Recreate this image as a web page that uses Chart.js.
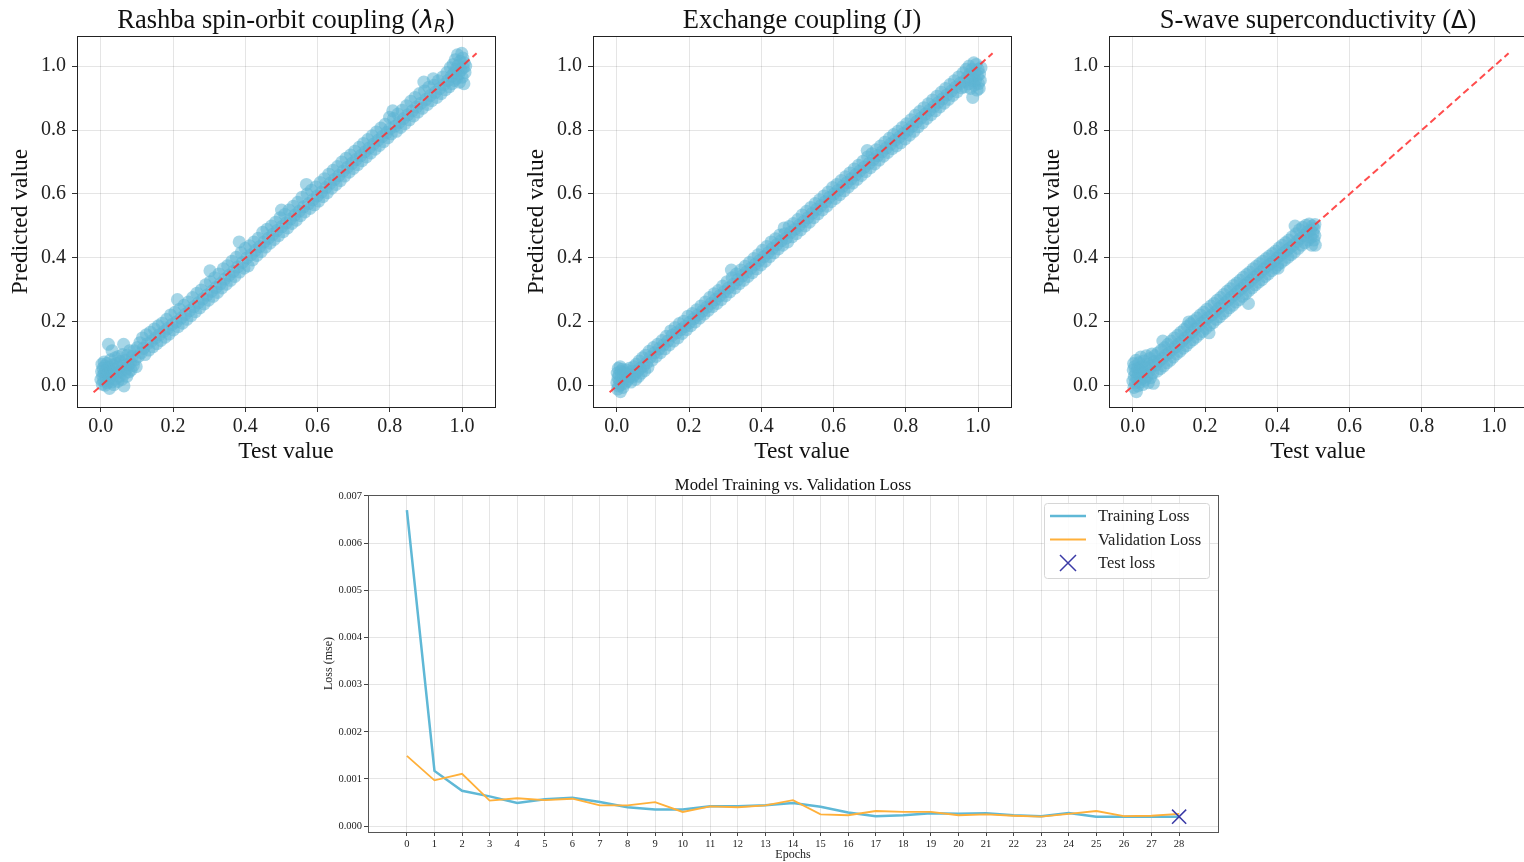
<!DOCTYPE html>
<html>
<head>
<meta charset="utf-8">
<script src="https://cdn.jsdelivr.net/npm/chart.js@4.4.0/dist/chart.umd.min.js"></script>
<style>
html, body { margin: 0; padding: 0; background: #fff; }
#wrap { position: relative; width: 1524px; height: 862px; overflow: hidden; }
canvas { position: absolute; }
</style>
</head>
<body>
<div id="wrap">
  <canvas id="rashba" width="510" height="470" style="left:0;top:0"></canvas>
  <canvas id="exchange" width="510" height="470" style="left:516px;top:0"></canvas>
  <canvas id="swave" width="510" height="470" style="left:1032px;top:0"></canvas>
  <canvas id="loss" width="940" height="392" style="left:300px;top:470px"></canvas>
</div>
<script>
// ---- data ----
const axisTicks = [0.0, 0.2, 0.4, 0.6, 0.8, 1.0];
const diagLine = [-0.02, 1.04];

// [test value, predicted value]
const rashbaPoints = [
  [0.000,0.020],[0.002,0.045],[0.003,0.068],[0.004,0.005],[0.005,0.032],[0.006,0.055],[0.008,0.015],[0.009,0.075],
  [0.010,0.040],[0.011,0.062],[0.012,0.002],[0.014,0.028],[0.015,0.050],[0.017,0.070],[0.018,0.010],[0.020,0.038],
  [0.021,0.130],[0.022,0.058],[0.024,-0.008],[0.025,0.024],[0.027,0.082],[0.028,0.046],[0.030,0.012],[0.031,0.110],
  [0.033,0.066],[0.034,0.034],[0.036,0.004],[0.038,0.052],[0.040,0.088],[0.041,0.022],[0.043,0.070],[0.045,0.040],
  [0.047,0.014],[0.049,0.092],[0.050,0.058],[0.052,0.030],[0.054,0.076],[0.056,0.046],[0.058,0.020],[0.060,0.098],
  [0.062,0.064],[0.063,0.130],[0.064,0.000],[0.066,0.038],[0.068,0.080],[0.070,0.052],[0.072,0.030],[0.074,0.096],
  [0.076,0.066],[0.078,0.044],[0.080,0.110],[0.082,0.072],[0.084,0.050],[0.087,0.092],[0.090,0.064],[0.092,0.110],
  [0.095,0.082],[0.098,0.060],[0.101,0.120],[0.104,0.092],[0.108,0.135],[0.112,0.104],[0.115,0.150],[0.118,0.118],
  [0.122,0.098],[0.126,0.160],[0.129,0.132],[0.133,0.112],[0.137,0.168],[0.140,0.140],[0.144,0.122],[0.148,0.178],
  [0.151,0.150],[0.155,0.132],[0.159,0.188],[0.162,0.160],[0.166,0.142],[0.170,0.196],[0.174,0.170],[0.178,0.152],
  [0.182,0.208],[0.185,0.180],[0.189,0.162],[0.193,0.222],[0.197,0.192],[0.201,0.175],[0.205,0.230],[0.209,0.200],
  [0.212,0.270],[0.214,0.185],[0.218,0.240],[0.222,0.212],[0.226,0.196],[0.230,0.252],[0.234,0.224],[0.238,0.208],
  [0.242,0.262],[0.246,0.236],[0.250,0.220],[0.254,0.276],[0.258,0.248],[0.262,0.232],[0.266,0.290],[0.270,0.260],
  [0.274,0.244],[0.278,0.300],[0.282,0.272],[0.286,0.256],[0.290,0.316],[0.294,0.284],[0.298,0.268],[0.302,0.360],
  [0.303,0.326],[0.307,0.296],[0.311,0.280],[0.315,0.338],[0.319,0.308],[0.323,0.292],[0.327,0.350],[0.331,0.320],
  [0.335,0.306],[0.339,0.366],[0.343,0.334],[0.347,0.318],[0.351,0.376],[0.355,0.346],[0.359,0.330],[0.363,0.390],
  [0.367,0.358],[0.371,0.342],[0.375,0.402],[0.379,0.372],[0.383,0.450],[0.384,0.356],[0.388,0.416],[0.392,0.386],
  [0.396,0.368],[0.400,0.430],[0.404,0.400],[0.408,0.375],[0.412,0.438],[0.416,0.410],[0.420,0.394],[0.424,0.450],
  [0.428,0.424],[0.432,0.408],[0.436,0.462],[0.440,0.436],[0.444,0.420],[0.448,0.480],[0.452,0.450],[0.456,0.434],
  [0.460,0.490],[0.464,0.462],[0.468,0.446],[0.472,0.500],[0.476,0.474],[0.480,0.458],[0.484,0.512],[0.488,0.486],
  [0.492,0.470],[0.496,0.526],[0.500,0.550],[0.501,0.498],[0.505,0.482],[0.509,0.536],[0.513,0.510],[0.517,0.494],
  [0.521,0.550],[0.525,0.522],[0.529,0.508],[0.533,0.562],[0.537,0.534],[0.541,0.518],[0.545,0.574],[0.549,0.546],
  [0.553,0.532],[0.557,0.590],[0.561,0.560],[0.565,0.544],[0.569,0.630],[0.571,0.600],[0.575,0.570],[0.579,0.555],
  [0.583,0.612],[0.587,0.582],[0.591,0.566],[0.595,0.622],[0.599,0.594],[0.603,0.578],[0.607,0.636],[0.611,0.606],
  [0.615,0.592],[0.619,0.648],[0.623,0.620],[0.627,0.604],[0.631,0.662],[0.635,0.634],[0.639,0.618],[0.643,0.674],
  [0.647,0.646],[0.651,0.630],[0.655,0.686],[0.659,0.658],[0.663,0.642],[0.667,0.700],[0.671,0.672],[0.675,0.656],
  [0.679,0.712],[0.683,0.684],[0.687,0.668],[0.691,0.722],[0.695,0.696],[0.699,0.680],[0.703,0.734],[0.707,0.708],
  [0.711,0.692],[0.715,0.746],[0.719,0.720],[0.723,0.704],[0.727,0.758],[0.731,0.732],[0.735,0.716],[0.739,0.770],
  [0.743,0.744],[0.747,0.728],[0.751,0.782],[0.755,0.756],[0.759,0.740],[0.763,0.794],[0.767,0.768],[0.771,0.752],
  [0.775,0.806],[0.779,0.780],[0.783,0.764],[0.787,0.818],[0.791,0.792],[0.795,0.776],[0.799,0.840],[0.800,0.804],
  [0.804,0.788],[0.808,0.860],[0.810,0.836],[0.814,0.812],[0.818,0.796],[0.822,0.850],[0.826,0.824],[0.830,0.808],
  [0.834,0.862],[0.838,0.836],[0.842,0.820],[0.846,0.876],[0.850,0.848],[0.854,0.832],[0.858,0.890],[0.862,0.860],
  [0.866,0.844],[0.870,0.902],[0.874,0.872],[0.878,0.856],[0.882,0.914],[0.886,0.884],[0.890,0.868],[0.894,0.950],
  [0.896,0.922],[0.900,0.896],[0.904,0.880],[0.908,0.934],[0.912,0.908],[0.916,0.892],[0.920,0.960],[0.922,0.940],
  [0.926,0.918],[0.930,0.902],[0.934,0.954],[0.938,0.930],[0.942,0.914],[0.946,0.966],[0.950,0.942],[0.954,0.926],
  [0.958,0.980],[0.961,0.955],[0.964,0.935],[0.967,0.995],[0.970,0.968],[0.972,0.945],[0.975,1.005],[0.977,0.978],
  [0.979,0.955],[0.981,1.020],[0.983,0.990],[0.985,0.962],[0.987,1.035],[0.989,1.002],[0.991,0.975],[0.993,0.950],
  [0.995,1.015],[0.997,0.988],[0.999,1.040],[1.000,0.965],[1.002,1.025],[1.003,0.995],[1.005,0.945],[1.006,1.010],
  [1.008,0.980],[1.010,1.000]
];

const exchangePoints = [
  [0.000,0.010],[0.001,0.040],[0.002,-0.010],[0.003,0.025],[0.004,0.055],[0.005,0.000],[0.006,0.035],[0.008,0.015],
  [0.009,0.060],[0.010,-0.018],[0.011,0.045],[0.012,0.005],[0.014,0.030],[0.015,0.052],[0.017,-0.005],[0.018,0.020],
  [0.020,0.042],[0.022,0.008],[0.024,0.032],[0.026,0.050],[0.028,0.015],[0.030,0.038],[0.032,0.022],[0.035,0.055],
  [0.037,0.030],[0.039,0.012],[0.042,0.046],[0.044,0.028],[0.047,0.060],[0.049,0.036],[0.052,0.020],[0.054,0.068],
  [0.057,0.045],[0.060,0.030],[0.062,0.078],[0.065,0.055],[0.068,0.040],[0.071,0.088],[0.074,0.062],[0.077,0.048],
  [0.080,0.096],[0.083,0.072],[0.086,0.058],[0.089,0.108],[0.093,0.090],[0.097,0.080],[0.101,0.120],[0.105,0.104],
  [0.109,0.092],[0.113,0.130],[0.117,0.116],[0.121,0.104],[0.125,0.142],[0.129,0.128],[0.133,0.116],[0.137,0.155],
  [0.141,0.140],[0.145,0.128],[0.149,0.172],[0.153,0.158],[0.157,0.140],[0.161,0.182],[0.165,0.166],[0.169,0.150],
  [0.173,0.195],[0.177,0.176],[0.181,0.164],[0.185,0.202],[0.189,0.186],[0.193,0.176],[0.197,0.218],[0.201,0.198],
  [0.205,0.188],[0.209,0.226],[0.213,0.210],[0.217,0.200],[0.221,0.238],[0.225,0.222],[0.229,0.212],[0.233,0.250],
  [0.237,0.234],[0.241,0.224],[0.245,0.262],[0.249,0.246],[0.253,0.236],[0.257,0.276],[0.261,0.258],[0.265,0.248],
  [0.269,0.288],[0.273,0.270],[0.277,0.258],[0.281,0.298],[0.285,0.282],[0.289,0.270],[0.293,0.312],[0.297,0.294],
  [0.301,0.282],[0.305,0.326],[0.309,0.306],[0.313,0.294],[0.317,0.362],[0.319,0.338],[0.323,0.318],[0.327,0.306],
  [0.331,0.350],[0.335,0.332],[0.339,0.320],[0.343,0.362],[0.347,0.344],[0.351,0.330],[0.355,0.374],[0.359,0.356],
  [0.363,0.342],[0.367,0.386],[0.371,0.368],[0.375,0.354],[0.379,0.398],[0.383,0.380],[0.387,0.366],[0.391,0.410],
  [0.395,0.392],[0.399,0.378],[0.403,0.424],[0.407,0.404],[0.411,0.390],[0.415,0.436],[0.419,0.416],[0.423,0.404],
  [0.427,0.450],[0.431,0.430],[0.435,0.416],[0.439,0.460],[0.443,0.442],[0.447,0.428],[0.451,0.472],[0.455,0.454],
  [0.459,0.440],[0.463,0.494],[0.465,0.476],[0.469,0.462],[0.473,0.450],[0.477,0.498],[0.481,0.480],[0.485,0.466],
  [0.489,0.508],[0.493,0.490],[0.497,0.476],[0.501,0.520],[0.505,0.502],[0.509,0.488],[0.513,0.534],[0.517,0.514],
  [0.521,0.500],[0.525,0.546],[0.529,0.526],[0.533,0.512],[0.537,0.558],[0.541,0.540],[0.545,0.526],[0.549,0.570],
  [0.553,0.552],[0.557,0.538],[0.561,0.582],[0.565,0.564],[0.569,0.550],[0.573,0.594],[0.577,0.576],[0.581,0.562],
  [0.585,0.606],[0.589,0.590],[0.593,0.576],[0.597,0.620],[0.601,0.600],[0.605,0.586],[0.609,0.630],[0.613,0.612],
  [0.617,0.598],[0.621,0.642],[0.625,0.624],[0.629,0.610],[0.633,0.654],[0.637,0.636],[0.641,0.622],[0.645,0.666],
  [0.649,0.648],[0.653,0.634],[0.657,0.678],[0.661,0.660],[0.665,0.646],[0.669,0.690],[0.673,0.672],[0.677,0.658],
  [0.681,0.702],[0.685,0.684],[0.689,0.670],[0.693,0.736],[0.694,0.716],[0.698,0.696],[0.702,0.682],[0.706,0.726],
  [0.710,0.708],[0.714,0.694],[0.718,0.738],[0.722,0.720],[0.726,0.706],[0.730,0.750],[0.734,0.732],[0.738,0.718],
  [0.742,0.762],[0.746,0.744],[0.750,0.730],[0.754,0.774],[0.758,0.756],[0.762,0.742],[0.766,0.786],[0.770,0.768],
  [0.774,0.750],[0.778,0.796],[0.782,0.778],[0.786,0.760],[0.790,0.808],[0.794,0.790],[0.798,0.772],[0.802,0.820],
  [0.806,0.800],[0.810,0.784],[0.814,0.832],[0.818,0.812],[0.822,0.796],[0.826,0.846],[0.830,0.826],[0.834,0.810],
  [0.838,0.858],[0.842,0.838],[0.846,0.822],[0.850,0.870],[0.854,0.850],[0.858,0.836],[0.862,0.882],[0.866,0.862],
  [0.870,0.848],[0.874,0.894],[0.878,0.874],[0.882,0.860],[0.886,0.906],[0.890,0.886],[0.894,0.872],[0.898,0.918],
  [0.902,0.898],[0.906,0.884],[0.910,0.930],[0.914,0.910],[0.918,0.896],[0.922,0.942],[0.926,0.922],[0.930,0.908],
  [0.934,0.954],[0.938,0.934],[0.942,0.920],[0.946,0.966],[0.950,0.946],[0.954,0.932],[0.958,0.978],[0.961,0.952],
  [0.964,0.935],[0.967,0.990],[0.970,0.965],[0.973,0.945],[0.975,1.000],[0.977,0.975],[0.979,0.930],[0.981,0.955],
  [0.983,0.990],[0.985,0.902],[0.986,0.965],[0.988,1.010],[0.990,0.940],[0.991,0.980],[0.993,0.955],[0.995,1.005],
  [0.997,0.925],[0.998,0.970],[1.000,0.990],[1.001,0.945],[1.003,0.930],[1.004,0.975],[1.006,0.955],[1.008,0.995]
];

const swavePoints = [
  [0.000,0.015],[0.001,0.050],[0.002,0.070],[0.003,-0.005],[0.004,0.030],[0.005,0.060],[0.007,0.010],[0.008,0.042],
  [0.009,0.080],[0.010,-0.018],[0.011,0.025],[0.013,0.055],[0.014,0.000],[0.016,0.036],[0.017,0.072],[0.019,0.012],
  [0.020,0.048],[0.022,0.090],[0.024,0.022],[0.025,0.060],[0.027,0.004],[0.029,0.040],[0.031,0.078],[0.033,0.018],
  [0.035,0.056],[0.037,0.094],[0.039,0.030],[0.041,0.068],[0.043,0.010],[0.045,0.046],[0.047,0.086],[0.049,0.026],
  [0.051,0.062],[0.053,0.100],[0.055,0.040],[0.057,0.008],[0.059,0.076],[0.061,0.094],[0.064,0.066],[0.067,0.046],
  [0.070,0.104],[0.073,0.078],[0.076,0.054],[0.079,0.112],[0.082,0.086],[0.085,0.062],[0.083,0.140],[0.088,0.120],
  [0.091,0.096],[0.094,0.072],[0.097,0.130],[0.100,0.104],[0.103,0.080],[0.106,0.140],[0.109,0.114],[0.112,0.090],
  [0.115,0.150],[0.118,0.122],[0.121,0.100],[0.124,0.158],[0.127,0.132],[0.130,0.108],[0.133,0.168],[0.136,0.140],
  [0.139,0.118],[0.142,0.176],[0.145,0.150],[0.148,0.126],[0.151,0.186],[0.154,0.158],[0.157,0.136],[0.155,0.200],
  [0.160,0.194],[0.163,0.168],[0.166,0.144],[0.169,0.204],[0.172,0.178],[0.175,0.152],[0.178,0.212],[0.181,0.186],
  [0.184,0.162],[0.187,0.222],[0.190,0.196],[0.193,0.170],[0.196,0.230],[0.199,0.204],[0.202,0.180],[0.205,0.240],
  [0.208,0.214],[0.211,0.166],[0.213,0.190],[0.216,0.250],[0.219,0.222],[0.222,0.198],[0.225,0.258],[0.228,0.232],
  [0.231,0.208],[0.234,0.268],[0.237,0.242],[0.240,0.216],[0.243,0.276],[0.246,0.250],[0.249,0.226],[0.252,0.286],
  [0.255,0.260],[0.258,0.234],[0.261,0.296],[0.264,0.268],[0.267,0.244],[0.270,0.304],[0.273,0.278],[0.276,0.252],
  [0.279,0.314],[0.282,0.286],[0.285,0.262],[0.288,0.322],[0.291,0.296],[0.294,0.270],[0.297,0.330],[0.300,0.304],
  [0.303,0.280],[0.306,0.340],[0.309,0.314],[0.312,0.288],[0.315,0.348],[0.318,0.322],[0.321,0.298],[0.320,0.258],
  [0.324,0.356],[0.327,0.330],[0.330,0.306],[0.333,0.366],[0.336,0.340],[0.339,0.316],[0.342,0.374],[0.345,0.348],
  [0.348,0.324],[0.351,0.382],[0.354,0.356],[0.357,0.332],[0.360,0.390],[0.363,0.366],[0.366,0.342],[0.369,0.398],
  [0.372,0.374],[0.375,0.350],[0.378,0.406],[0.381,0.382],[0.384,0.360],[0.387,0.414],[0.390,0.390],[0.393,0.368],
  [0.396,0.422],[0.399,0.400],[0.402,0.368],[0.401,0.378],[0.405,0.432],[0.408,0.408],[0.411,0.386],[0.414,0.440],
  [0.417,0.416],[0.420,0.394],[0.423,0.448],[0.426,0.424],[0.429,0.402],[0.432,0.456],[0.435,0.432],[0.438,0.410],
  [0.441,0.466],[0.444,0.440],[0.447,0.418],[0.449,0.500],[0.452,0.476],[0.455,0.452],[0.458,0.430],[0.461,0.488],
  [0.464,0.462],[0.467,0.440],[0.470,0.496],[0.473,0.470],[0.476,0.448],[0.479,0.502],[0.482,0.480],[0.485,0.456],
  [0.488,0.506],[0.491,0.486],[0.493,0.464],[0.495,0.440],[0.497,0.500],[0.499,0.478],[0.501,0.456],[0.502,0.492],
  [0.504,0.470],[0.505,0.440],[0.504,0.505]
];

const epochs = [0,1,2,3,4,5,6,7,8,9,10,11,12,13,14,15,16,17,18,19,20,21,22,23,24,25,26,27,28];
const trainLoss = [0.00670,0.00117,0.00075,0.00063,0.00049,0.00057,0.00060,0.00051,0.00040,0.00035,0.00035,0.00042,0.00042,0.00044,0.00049,
                   0.00041,0.00029,0.00021,0.00023,0.00027,0.00026,0.00027,0.00023,0.00021,0.00028,0.00020,0.00020,0.00020,0.00020];
const valLoss = [0.00149,0.00097,0.00111,0.00054,0.00059,0.00055,0.00058,0.00044,0.00044,0.00051,0.00030,0.00042,0.00040,0.00044,0.00055,
                 0.00025,0.00023,0.00032,0.00030,0.00030,0.00023,0.00025,0.00022,0.00020,0.00026,0.00032,0.00021,0.00022,0.00026];
const testEpoch = 28;
const testLoss = 0.00020;
const lossTicks = [0.000,0.001,0.002,0.003,0.004,0.005,0.006,0.007];

// ---- styling ----
const SERIF = '"Liberation Serif", "Times New Roman", serif';
const MATH = '"DejaVu Sans", sans-serif';
const gridColor = 'rgba(0,0,0,0.1)';

// draws the title centred over the plot area, supports mixed fonts / subscript
const richTitle = {
  id: 'richTitle',
  afterDraw(chart, args, opts) {
    if (!opts.parts) return;
    const ctx = chart.ctx;
    const area = chart.chartArea;
    ctx.save();
    let total = 0;
    opts.parts.forEach(p => { ctx.font = p.font; total += ctx.measureText(p.text).width; });
    let x = (area.left + area.right) / 2 - total / 2;
    ctx.textBaseline = 'alphabetic';
    ctx.fillStyle = '#111';
    opts.parts.forEach(p => {
      ctx.font = p.font;
      ctx.fillText(p.text, x, opts.y + (p.dy || 0));
      x += ctx.measureText(p.text).width;
    });
    ctx.restore();
  }
};

const frame = {
  id: 'frame',
  afterDraw(chart, args, opts) {
    const {ctx, chartArea: a} = chart;
    ctx.save();
    ctx.strokeStyle = opts.color || '#222';
    ctx.lineWidth = 1;
    ctx.strokeRect(Math.round(a.left) + 0.5, Math.round(a.top) + 0.5,
                   Math.round(a.right - a.left), Math.round(a.bottom - a.top));
    ctx.restore();
  }
};

const boxLegend = {
  id: 'boxLegend',
  afterDraw(chart, args, opts) {
    if (!opts.show) return;
    const {ctx, chartArea: a} = chart;
    const w = 165, h = 75;
    const x0 = a.right - 9 - w, y0 = a.top + 8;
    ctx.save();
    ctx.beginPath();
    ctx.roundRect(x0 + 0.5, y0 + 0.5, w, h, 3);
    ctx.fillStyle = 'rgba(255,255,255,0.85)';
    ctx.fill();
    ctx.strokeStyle = '#d6d6d6';
    ctx.lineWidth = 1;
    ctx.stroke();
    ctx.font = '16.5px ' + SERIF;
    ctx.textBaseline = 'middle';
    chart.data.datasets.forEach((ds, i) => {
      const y = y0 + 13 + i * 23.5;
      if (ds.showLine) {
        ctx.beginPath();
        ctx.moveTo(x0 + 6, y);
        ctx.lineTo(x0 + 42, y);
        ctx.strokeStyle = ds.borderColor;
        ctx.lineWidth = ds.borderWidth;
        ctx.stroke();
      } else {
        const cx = x0 + 24, r = 8;
        ctx.beginPath();
        ctx.moveTo(cx - r, y - r); ctx.lineTo(cx + r, y + r);
        ctx.moveTo(cx + r, y - r); ctx.lineTo(cx - r, y + r);
        ctx.strokeStyle = ds.borderColor;
        ctx.lineWidth = ds.borderWidth;
        ctx.stroke();
      }
      ctx.fillStyle = '#222';
      ctx.fillText(ds.label, x0 + 54, y + 1);
    });
    ctx.restore();
  }
};

function makePanel(id, points, titleParts) {
  new Chart(document.getElementById(id), {
    type: 'scatter',
    data: {
      datasets: [
        {
          data: diagLine.map(v => ({x: v, y: v})),
          showLine: true,
          borderColor: 'rgba(255,45,45,0.85)',
          borderWidth: 2,
          borderDash: [7, 4],
          pointRadius: 0,
          order: 0
        },
        {
          data: points.map(p => ({x: p[0], y: p[1]})),
          backgroundColor: 'rgba(92,180,212,0.55)',
          borderWidth: 0,
          pointRadius: 6.5,
          order: 1
        }
      ]
    },
    options: {
      responsive: false,
      animation: false,
      layout: { padding: { left: 0, top: 36, right: 15, bottom: 0 } },
      plugins: {
        legend: { display: false },
        tooltip: { enabled: false },
        richTitle: { parts: titleParts, y: 28 },
        frame: { color: '#222' }
      },
      scales: {
        x: {
          type: 'linear', min: -0.066, max: 1.091,
          afterBuildTicks: s => { s.ticks = axisTicks.map(v => ({value: v})); },
          afterFit: s => { s.height = 63; },
          ticks: { callback: v => v.toFixed(1), color: '#222', font: {family: SERIF, size: 20}, padding: 3, maxRotation: 0, autoSkip: false },
          grid: { color: gridColor, tickColor: '#333', tickLength: 5 },
          border: { display: false },
          title: { display: true, text: 'Test value', color: '#111', font: {family: SERIF, size: 23.5}, padding: {top: 0, bottom: 4} }
        },
        y: {
          type: 'linear', min: -0.066, max: 1.094,
          afterBuildTicks: s => { s.ticks = axisTicks.map(v => ({value: v})); },
          afterFit: s => { s.width = 77; },
          ticks: { callback: v => v.toFixed(1), color: '#222', font: {family: SERIF, size: 20}, padding: 6, autoSkip: false },
          grid: { color: gridColor, tickColor: '#333', tickLength: 5 },
          border: { display: false },
          title: { display: true, text: 'Predicted value', color: '#111', font: {family: SERIF, size: 23.5}, padding: {top: 7, bottom: 0} }
        }
      }
    },
    plugins: [richTitle, frame]
  });
}

makePanel('rashba', rashbaPoints, [
  {text: 'Rashba spin-orbit coupling (', font: '26.5px ' + SERIF},
  {text: 'λ', font: 'italic 24px ' + MATH},
  {text: 'R', font: 'italic 17px ' + MATH, dy: 4},
  {text: ')', font: '26.5px ' + SERIF}
]);
makePanel('exchange', exchangePoints, [
  {text: 'Exchange coupling (J)', font: '26.5px ' + SERIF}
]);
makePanel('swave', swavePoints, [
  {text: 'S-wave superconductivity (', font: '26.5px ' + SERIF},
  {text: 'Δ', font: '24px ' + MATH},
  {text: ')', font: '26.5px ' + SERIF}
]);

new Chart(document.getElementById('loss'), {
  type: 'scatter',
  data: {
    datasets: [
      {
        label: 'Training Loss',
        data: epochs.map((e, i) => ({x: e, y: trainLoss[i]})),
        showLine: true,
        borderColor: '#5fb8d6',
        borderWidth: 2.5,
        pointRadius: 0,
        tension: 0,
        order: 2
      },
      {
        label: 'Validation Loss',
        data: epochs.map((e, i) => ({x: e, y: valLoss[i]})),
        showLine: true,
        borderColor: '#ffb03a',
        borderWidth: 1.8,
        pointRadius: 0,
        tension: 0,
        order: 1
      },
      {
        label: 'Test loss',
        data: [{x: testEpoch, y: testLoss}],
        showLine: false,
        pointStyle: 'crossRot',
        pointRadius: 10,
        borderColor: '#3a3aa6',
        backgroundColor: '#3a3aa6',
        borderWidth: 1.5,
        order: 0
      }
    ]
  },
  options: {
    responsive: false,
    animation: false,
    layout: { padding: { left: 0, top: 25, right: 22, bottom: 0 } },
    plugins: {
      legend: { display: false },
      tooltip: { enabled: false },
      richTitle: { parts: [{text: 'Model Training vs. Validation Loss', font: '16.7px ' + SERIF}], y: 20 },
      frame: { color: '#555' },
      boxLegend: { show: true }
    },
    scales: {
      x: {
        type: 'linear', min: -1.41, max: 29.41,
        afterBuildTicks: s => { s.ticks = epochs.map(v => ({value: v})); },
        afterFit: s => { s.height = 30; },
        ticks: { callback: v => String(v), color: '#222', font: {family: SERIF, size: 10.5}, padding: 2, maxRotation: 0, autoSkip: false },
        grid: { color: gridColor, tickColor: '#444', tickLength: 4 },
        border: { display: false },
        title: { display: true, text: 'Epochs', color: '#222', font: {family: SERIF, size: 12}, padding: {top: 0, bottom: 0} }
      },
      y: {
        type: 'linear', min: -0.000125, max: 0.00702,
        afterBuildTicks: s => { s.ticks = lossTicks.map(v => ({value: v})); },
        afterFit: s => { s.width = 68; },
        ticks: { callback: v => v.toFixed(3), color: '#222', font: {family: SERIF, size: 10.5}, padding: 2, autoSkip: false },
        grid: { color: gridColor, tickColor: '#444', tickLength: 4 },
        border: { display: false },
        title: { display: true, text: 'Loss (mse)', color: '#222', font: {family: SERIF, size: 12}, padding: {top: 22, bottom: 0} }
      }
    }
  },
  plugins: [richTitle, frame, boxLegend]
});
</script>
</body>
</html>
